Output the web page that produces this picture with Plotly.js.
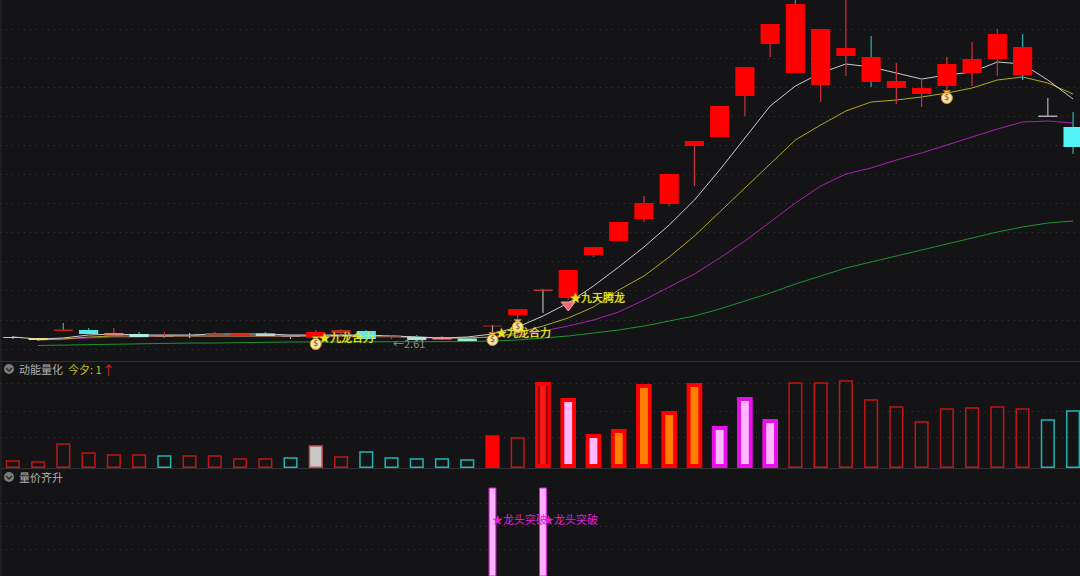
<!DOCTYPE html>
<html><head><meta charset="utf-8">
<script src="https://cdn.plot.ly/plotly-3.0.1.min.js"></script>
<style>html,body{margin:0;padding:0;background:#141416}#c{width:1080px;height:576px}</style>
</head><body><div id="c"></div>
<script>
const bodyTop=[24,23,31.5,31,28,27,25,26,28,27.5,27.5,25,29,31,30,25.5,24,24,22.5,35.5,52,71.5,91,114,139,158,187,220,255,294,337,357,332,313,304,280,273,297,302,327,314,245.5,234];
const bodyBottom=[23,21,30,27,25.5,24,24,25,25.5,25,25,24,23,28,22,24,21,21.5,20,34.5,46,70,63,106,120,142,157,215,224,265,317,288,276,305,279,273,267,275,288,302,286,244,214];
const wickHigh=[25,23,38,33,33,29,29,28,29,28,29,26,31,32,31,26,26,25,23,36,52,72,91,114,139,165,187,220,255,294,337,370,332,370,325,298,283,304,319,332,327,263,249];
const wickLow=[22,20,30,27,25,24,23,23,25,25,25,22,23,27,21,22,19,21,20,23,32,48,61,104,120,139,155,175,224,245,304,288,259,285,274,257,254,271,275,285,281,244,207];
const RED='#ff0000',WD='#c8303c',WT='#2aa8a8',WG='#a8a8a8';
const bodyColor=['#c8c8c0','#e8d8a0','#c02020','#55e8e8','#e08070','#b8e8e0','#b08070','#a09080','#905040','#f02010','#b8dcd0','#a08888',RED,'#b03020','#60e8e8','#906050','#a0e8f0','#f09090','#90f0d0','#c02020',RED,'#c03030',RED,RED,RED,RED,RED,RED,RED,RED,RED,RED,RED,RED,RED,RED,RED,RED,RED,RED,RED,'#a8a8a8','#55f4f8'];
const wickColor=[WG,WG,WT,WT,WD,WT,WD,WG,WD,WD,WT,WG,WD,WD,WT,WD,WT,WD,WT,WG,WD,WG,WD,WD,WD,WD,WD,WD,WD,WD,WD,WT,WD,WD,WT,WD,WD,WD,WD,WD,WT,WG,WT];
const maWhite=[24,22,23,26,27,26,26,26,27,27,27,26,26,26,26,25,24,23,24,27,34,45,58,75,94,114,136,161,191,223,255,275,288,297,294,288,282,286,289,299,297,281,262];
const maYellow=[null,21,22,24,25,25,25,25,25,25,25,25,25,25,25,25,24,23,23,24,28,35,43,54,71,85,104,125,149,173,196,221,236,250,259,261,264,268,273,281,284,278,267];
const maPurple=[null,22,22,23,24,24,25,25,25,25,25,25,25,25,24,24,23,23,23,24,26,30,35,41,49,61,74,87,103,120,139,158,175,187,193,201,208,216,224,232,239,240,238];
const maGreen=[null,15.5,16,16.5,17,17,18,18,18,18.5,18.5,19,19,19,19,19,19.5,19.5,19.5,20,21,23,25,28,31,35,40,45,52,60,68,77,85,93,99,105,111,117,123,129,134,138,140];
const momentum=[7,6,24,15,13,13,12,12,12,9,9,10,22,11,16,10,9,9,8,32,30,86,70,34,39,84,57,85,42,71,49,85,85,87,68,61,46,59,60,61,59,48,57];
const momentumKind=['r','r','r','r','r','r','t','r','r','r','r','t','g','r','t','t','t','t','t','f','r','R','p','p','o','o','o','o','m','m','m','r','r','r','r','r','r','r','r','r','r','t','t'];
const surgeIdx=[19,21];
const surgeVal=[88,88];
const bagIdx=[12,19,20,37];
const bagVal=[17,21,34,263];
const gemIdx=[22];
const gemVal=[56];

const n=bodyTop.length, idx=Array.from({length:n},(_,i)=>i);
const pick=(kinds,arr)=>idx.filter(i=>kinds.includes(momentumKind[i])).map(arr);
const HOLLOW={r:'#c01616',t:'#20b4b4'};
const OUTER={R:'#ff0000',p:'#ff0000',o:'#ff0000',m:'#e810e8',f:'#ff0000',g:'#c85050'};
const INNER={R:'#a00808',p:'#ffb8ff',o:'#ff8000',m:'#ffb8ff'};
const line=(y,c)=>({type:'scatter',mode:'lines',x:idx,y:y,xaxis:'x',yaxis:'y',connectgaps:false,line:{color:c,width:1},hoverinfo:'skip'});

const traces=[
 line(maGreen,'#1e9434'),line(maPurple,'#ac20b2'),line(maYellow,'#b0a824'),line(maWhite,'#cccccc'),
 {type:'bar',x:idx,base:wickLow,y:idx.map(i=>wickHigh[i]-wickLow[i]),width:0.05,xaxis:'x',yaxis:'y4',marker:{color:wickColor,line:{width:0}},hoverinfo:'skip'},
 {type:'bar',x:idx,base:bodyBottom,y:idx.map(i=>bodyTop[i]-bodyBottom[i]),width:0.76,xaxis:'x',yaxis:'y4',marker:{color:bodyColor,line:{width:0}},hoverinfo:'skip'},
 {type:'scatter',mode:'markers',x:bagIdx,y:bagVal.map(v=>v+6),xaxis:'x',yaxis:'y4',marker:{symbol:'triangle-down',size:6,color:'#e8c060',line:{color:'#b07818',width:1}},hoverinfo:'skip'},
 {type:'scatter',mode:'markers+text',x:bagIdx,y:bagVal,xaxis:'x',yaxis:'y4',text:bagIdx.map(()=>'$'),textposition:'middle center',textfont:{size:8,color:'#7a5010',family:'DejaVu Sans'},marker:{symbol:'circle',size:11,color:'#f6e4a8',line:{color:'#d89818',width:1}},hoverinfo:'skip'},
 {type:'scatter',mode:'markers',x:gemIdx,y:gemVal,xaxis:'x',yaxis:'y4',marker:{symbol:'triangle-down',size:12,color:'#f06878',line:{color:'#f8a8a8',width:1}},hoverinfo:'skip'},
 // momentum panel
 {type:'bar',x:pick(['r','t'],i=>i),base:pick(['r','t'],i=>0.8),y:pick(['r','t'],i=>momentum[i]-0.8),width:0.5,xaxis:'x',yaxis:'y2',marker:{color:'rgba(0,0,0,0)',line:{color:pick(['r','t'],i=>HOLLOW[momentumKind[i]]),width:1.5}},hoverinfo:'skip'},
 {type:'bar',x:pick(['g','f'],i=>i),base:pick(['g','f'],i=>0.8),y:pick(['g','f'],i=>momentum[i]-0.8),width:0.5,xaxis:'x',yaxis:'y2',marker:{color:pick(['g','f'],i=>momentumKind[i]==='g'?'#c8c8c8':'#ff0000'),line:{color:pick(['g','f'],i=>OUTER[momentumKind[i]]),width:1.5}},hoverinfo:'skip'},
 {type:'bar',x:pick(['R','p','o','m'],i=>i),y:pick(['R','p','o','m'],i=>momentum[i]),width:0.62,xaxis:'x',yaxis:'y2',marker:{color:pick(['R','p','o','m'],i=>OUTER[momentumKind[i]]),line:{width:0}},hoverinfo:'skip'},
 {type:'bar',x:pick(['R','p','o','m'],i=>i),base:pick(['R','p','o','m'],i=>4),y:pick(['R','p','o','m'],i=>momentum[i]-8),width:pick(['R','p','o','m'],i=>momentumKind[i]==='R'?0.42:0.31),xaxis:'x',yaxis:'y2',marker:{color:pick(['R','p','o','m'],i=>INNER[momentumKind[i]]),line:{width:0}},hoverinfo:'skip'},
 {type:'bar',x:pick(['R'],i=>i),base:pick(['R'],i=>4),y:pick(['R'],i=>momentum[i]-8),width:0.22,xaxis:'x',yaxis:'y2',marker:{color:'#ff1818',line:{width:0}},hoverinfo:'skip'},
 // volume/price panel
 {type:'bar',x:surgeIdx,y:surgeVal,width:0.27,xaxis:'x',yaxis:'y3',marker:{color:'#ffb0ff',line:{color:'#d820d8',width:1}},hoverinfo:'skip'}
];

const CJK='"Noto Sans CJK SC","Noto Sans",sans-serif';
const note=(x,y,t,c,xr,yr,size,glow)=>({x:x,y:y,xref:xr,yref:yr,text:t,showarrow:false,xanchor:'left',yanchor:'middle',font:{family:CJK,size:size||11,color:c,shadow:glow?'0 0 1px '+c:'none'},borderpad:0});
const P=(px)=>px/1080, Q=(py)=>1-py/576;
const annotations=[
 note(12.1,24,'★九龙合力','#e4e420','x','y',11,true),
 note(19.1,29,'★九龙合力','#e4e420','x','y',11,true),
 note(22.05,64,'★九天腾龙','#e4e420','x','y',11,true),
 note(15.0,18,'←2.61','#8c8c8c','x','y'),
 note(18.95,57,'★龙头突破','#e020d8','x','y3'),
 note(20.95,57,'★龙头突破','#e020d8','x','y3'),
 note(P(18),Q(369),'动能量化','#b0b0b0','paper','paper'),
 note(P(67),Q(369),'今夕: 1','#c0c020','paper','paper'),
 note(P(101),Q(369),'↑','#e02030','paper','paper',13),
 note(P(18),Q(477),'量价齐升','#b0b0b0','paper','paper')
];
const circle=(cx,cy)=>({type:'circle',xref:'paper',yref:'paper',x0:P(cx-5),x1:P(cx+5),y0:Q(cy+5),y1:Q(cy-5),fillcolor:'#7c7c7c',line:{width:0},layer:'above'});
const chev=(cx,cy)=>({type:'path',xref:'paper',yref:'paper',path:`M${P(cx-3)},${Q(cy-1)} L${P(cx)},${Q(cy+2)} L${P(cx+3)},${Q(cy-1)}`,line:{color:'#2a2a2a',width:1.5},layer:'above'});
const sep=(py)=>({type:'line',xref:'paper',yref:'paper',x0:0,x1:1,y0:Q(py),y1:Q(py),line:{color:'#313134',width:1},layer:'above'});
const shapes=[sep(361.5),sep(468.5),
 {type:'line',xref:'paper',yref:'paper',x0:P(1),x1:P(1),y0:0,y1:1,line:{color:'#2a2a2d',width:1}},
 circle(9,369),chev(9,369),circle(9,477),chev(9,477)];
const yax=(dom,range,ticks)=>({domain:dom,range:range,fixedrange:true,tickmode:'array',tickvals:ticks,showticklabels:false,ticks:'',showgrid:true,griddash:'1px,5px',gridcolor:'#38383b',gridwidth:1,zeroline:false,showline:false});

const layout={
 width:1080,height:576,margin:{l:0,r:0,t:0,b:0},paper_bgcolor:'#141416',plot_bgcolor:'#141416',showlegend:false,barmode:'overlay',
 xaxis:{range:[-0.51,42.275],visible:false,fixedrange:true,anchor:'y3'},
 yaxis:yax([1-361/576,1],[0,361],[12,41,71,100,129,158,187,216,245,274,303,332]),
 yaxis2:yax([1-468/576,1-362/576],[0,106],[31,57,85]),
 yaxis3:yax([0,1-469/576],[0,107],[27,50,73]),
 yaxis4:{overlaying:'y',range:[0,361],visible:false,fixedrange:true,showgrid:false,zeroline:false},
 annotations:annotations,shapes:shapes
};
Plotly.newPlot('c',traces,layout,{displayModeBar:false,staticPlot:true});
</script></body></html>
